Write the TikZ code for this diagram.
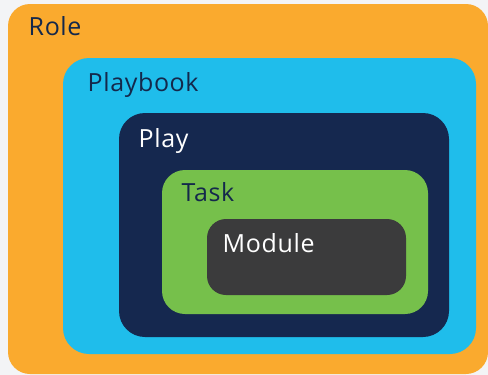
\documentclass[tikz,border=0pt]{standalone}
\usepackage{fontspec}
\setmainfont{Open Sans}[LetterSpace=2.5]
\definecolor{pagebg}{HTML}{F3F4F6}
\definecolor{roleC}{HTML}{FAAA2E}
\definecolor{bookC}{HTML}{1FBDEB}
\definecolor{playC}{HTML}{15284F}
\definecolor{taskC}{HTML}{76C04B}
\definecolor{modC}{HTML}{3B3B3C}
\definecolor{darkText}{HTML}{14284B}
\tikzset{
  layer/.style={draw=none, rounded corners=#1},
  layer/.default=22pt,
  lbl/.style={anchor=base west, inner sep=0pt, font=\fontsize{25}{28}\selectfont},
}
\begin{document}
\begin{tikzpicture}[x=1pt,y=-1pt]
  % canvas
  \fill[pagebg] (0,0) rectangle (488,375);
  \useasboundingbox (0,0) rectangle (488,375);
  % nested layers, outermost first
  \fill[roleC, layer=22pt] (8,4) rectangle (488,374);
  \fill[bookC, layer=26pt] (63,58) rectangle (476,354);
  \fill[playC, layer=26pt] (119,113) rectangle (449,337);
  \fill[taskC, layer=23pt] (162,170) rectangle (428,314);
  \fill[modC, layer=19pt] (207,219) rectangle (406,295);
  % labels
  \node[lbl, text=darkText] (role) at (28.5,35.7) {Role};
  \node[lbl, text=darkText] (book) at (87.5,91.3) {Playbook};
  \node[lbl, text=white] (play) at (138.5,147.7) {Play};
  \node[lbl, text=darkText] (task) at (181.5,201.7) {Task};
  \node[lbl, text=white] (module) at (222.5,252) {Module};
\end{tikzpicture}
\end{document}
